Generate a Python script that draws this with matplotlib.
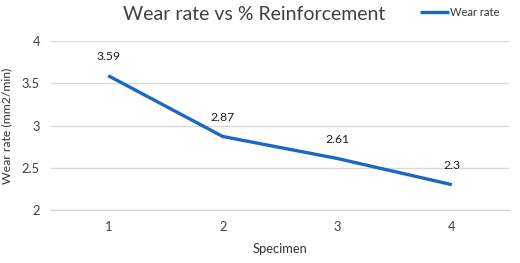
import matplotlib
matplotlib.use('Agg')
import matplotlib.pyplot as plt
from matplotlib import rcParams

rcParams['font.family'] = ['Lato', 'DejaVu Sans']

# data
specimens = [1, 2, 3, 4]
wear_rate = [3.59, 2.87, 2.61, 2.3]
y_ticks = [2, 2.5, 3, 3.5, 4]

fig = plt.figure(figsize=(5.2, 2.63), dpi=100)
ax = fig.add_axes([0.098, 0.2015, 0.881, 0.6425])

ax.plot(specimens, wear_rate, color='#1a68c4', linewidth=2.4,
        solid_capstyle='butt', label='Wear rate', zorder=3)

for x, y in zip(specimens, wear_rate):
    ax.annotate(f'{y:g}', (x, y), xytext=(0, 13.5), textcoords='offset points',
                ha='center', va='center', fontsize=8.8, color='#1a1a1a')

ax.set_xlim(0.5, 4.5)
ax.set_ylim(2, 4)
ax.set_xticks(specimens)
ax.set_yticks(y_ticks)
ax.set_yticklabels([f'{t:g}' for t in y_ticks])
ax.grid(axis='y', color='#d9d9d9', linewidth=1)
ax.set_axisbelow(True)
for s in ['top', 'right', 'left']:
    ax.spines[s].set_visible(False)
ax.spines['bottom'].set_color('#d0d0d0')
ax.tick_params(length=0, labelsize=9.3, colors='#404040', pad=8)

ax.set_xlabel('Specimen', fontsize=9.3, color='#333333', labelpad=7)
ax.set_ylabel('Wear rate (mm2/min)', fontsize=8.8, color='#333333', labelpad=7)

fig.text(0.488, 0.945, 'Wear rate vs % Reinforcement', ha='center', va='center',
         fontsize=14, color='#404040')
ax.legend(loc='center', bbox_to_anchor=(0.893, 1.17), frameon=False, fontsize=8,
          handlelength=2.6, handletextpad=0.1, labelcolor='#333333')

fig.savefig('out.png', dpi=100)
